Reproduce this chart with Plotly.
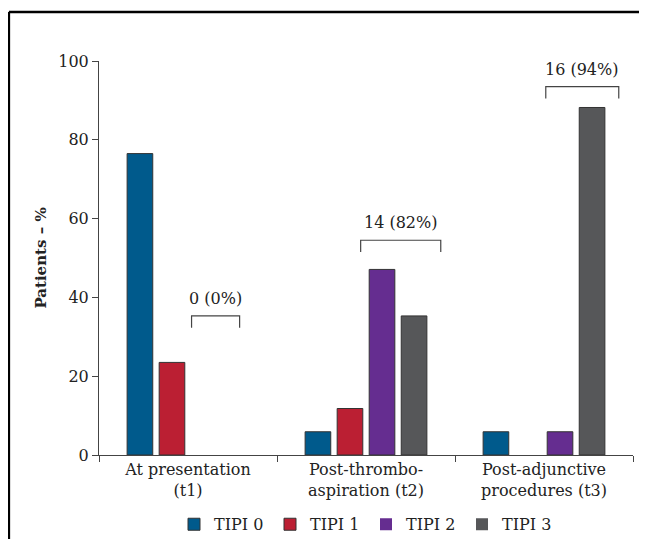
import plotly.graph_objects as go

# ---- data ----
categories = ["At presentation<br>(t1)", "Post-thrombo-<br>aspiration (t2)", "Post-adjunctive<br>procedures (t3)"]
series_names = ["TIPI 0", "TIPI 1", "TIPI 2", "TIPI 3"]
tipi0 = [76.5, 5.9, 5.9]
tipi1 = [23.5, 11.8, 0]
tipi2 = [0, 47.1, 5.9]
tipi3 = [0, 35.3, 88.2]
bracket_labels = ["0 (0%)", "14 (82%)", "16 (94%)"]
y_ticks = [0, 20, 40, 60, 80, 100]

# ---- style ----
colors = ["#005a8c", "#bb1f33", "#652d90", "#565759"]
bracket_x0 = [0.02, -0.03, 0.01]      # offset from category index
bracket_x1 = [0.29, 0.42, 0.42]
bracket_top = [35.3, 54.5, 93.5]
tip_depth = 3.0
label_gap = 4.4
FONT = "DejaVu Serif"

W, H = 639, 531
L, R, T, B = 91, 13.5, 53, 83.5
pw, ph = W - L - R, H - T - B

fig = go.Figure()
for name, vals, col in zip(series_names, [tipi0, tipi1, tipi2, tipi3], colors):
    fig.add_trace(go.Bar(x=categories, y=vals, name=name,
                         marker=dict(color=col,
                                     line=dict(color="#333333", width=[1 if v > 0 else 0 for v in vals]))))

shapes = []
annotations = []
for i, (lab, a, b, top) in enumerate(zip(bracket_labels, bracket_x0, bracket_x1, bracket_top)):
    xa, xb = i + a, i + b
    shapes.append(dict(type="path", xref="x", yref="y",
                       path=f"M {xa},{top - tip_depth} L {xa},{top} L {xb},{top} L {xb},{top - tip_depth}",
                       line=dict(color="#444444", width=1.2)))
    annotations.append(dict(x=(xa + xb) / 2, y=top + label_gap, xref="x", yref="y", text=lab,
                            showarrow=False, font=dict(family=FONT, size=16, color="#222222"),
                            xanchor="center", yanchor="middle"))

# frame lines (left and top)
fx = (0.8 - L) / pw
fy = (H - B - 4) / ph
shapes.append(dict(type="line", xref="paper", yref="paper", x0=fx, x1=fx, y0=-0.3, y1=fy,
                   line=dict(color="black", width=2.5)))
shapes.append(dict(type="line", xref="paper", yref="paper", x0=fx, x1=1.1, y0=fy, y1=fy,
                   line=dict(color="black", width=2.5)))

fig.update_layout(
    width=W, height=H,
    margin=dict(l=L, r=R, t=T, b=B, autoexpand=False),
    paper_bgcolor="white", plot_bgcolor="white",
    font=dict(family=FONT, size=16, color="#222222"),
    barmode="group", bargap=0.28, bargroupgap=0.2,
    showlegend=True,
    legend=dict(orientation="h", x=0.5, xanchor="center", y=-0.176, yanchor="middle",
                font=dict(family=FONT, size=16, color="#222222"),
                entrywidth=51, itemwidth=30, traceorder="normal"),
    shapes=shapes, annotations=annotations,
)
fig.update_xaxes(type="category", range=[-0.5, 2.5], showline=True, linecolor="#444444", linewidth=1,
                 ticks="outside", tickson="boundaries", ticklen=6, tickcolor="#444444",
                 showgrid=False, zeroline=False, tickfont=dict(family=FONT, size=16, color="#222222"))
fig.update_yaxes(range=[0, 100], tickvals=y_ticks, showline=True, linecolor="#444444", linewidth=1,
                 ticks="outside", ticklen=6, tickcolor="#444444", showgrid=False, zeroline=False,
                 tickfont=dict(family=FONT, size=16, color="#222222"),
                 title=dict(text="<b>Patients – %</b>", font=dict(family=FONT, size=15, color="#222222"),
                            standoff=8))

fig.write_html("out.html")
